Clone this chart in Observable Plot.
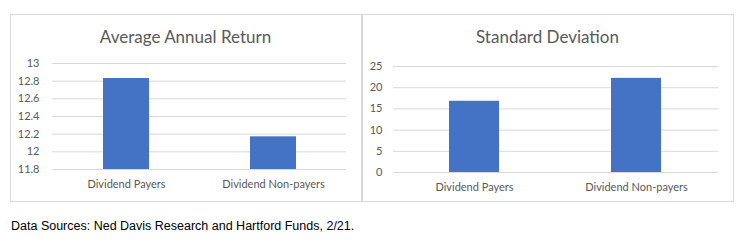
<!DOCTYPE html>
<html>
<head>
<meta charset="utf-8">
<script src="https://cdn.jsdelivr.net/npm/d3@7"></script>
<script src="https://cdn.jsdelivr.net/npm/@observablehq/plot@0.6"></script>
<style>
  html, body { margin: 0; padding: 0; background: #fff; }
  #page { position: relative; width: 743px; height: 247px; overflow: hidden; background: #fff; }
  .panel { position: absolute; border: 1px solid #d9d9d9; box-sizing: border-box; }
  .title { position: absolute; text-align: center; font-family: Lato, "Open Sans", sans-serif; font-size: 17px; color: #595959; white-space: nowrap; }
  .chart { position: absolute; }
  #caption { position: absolute; left: 11px; top: 219px; font-family: "Liberation Sans", Arial, sans-serif; font-size: 12.5px; color: #000; white-space: nowrap; }
</style>
</head>
<body>
<div id="page">
  <div class="panel" style="left:10px; top:14px; width:352px; height:188px;"></div>
  <div class="panel" style="left:362px; top:14px; width:372px; height:188px;"></div>
  <div class="title" id="t1" style="left:10px; top:26px; width:351px;"></div>
  <div class="title" id="t2" style="left:362px; top:26px; width:371px;"></div>
  <div class="chart" id="c1" style="left:10px; top:55px;"></div>
  <div class="chart" id="c2" style="left:362px; top:55px;"></div>
  <div id="caption"></div>
</div>
<script>
const categories = ["Dividend Payers", "Dividend Non-payers"];
const avgAnnualReturn = [12.83, 12.17];
const standardDeviation = [16.8, 22.2];
const returnTicks = [11.8, 12, 12.2, 12.4, 12.6, 12.8, 13];
const stdTicks = [0, 5, 10, 15, 20, 25];
const titles = ["Average Annual Return", "Standard Deviation"];
const captionText = "Data Sources: Ned Davis Research and Hartford Funds, 2/21.";

const barColor = "#4472C4";
const gridColor = "#d9d9d9";
const textColor = "#595959";
const font = "Lato, 'Open Sans', sans-serif";

function makeChart(values, ticks, opts) {
  const data = categories.map((c, i) => ({category: c, value: values[i]}));
  const yMin = ticks[0], yMax = ticks[ticks.length - 1];
  return Plot.plot({
    width: opts.width,
    height: 140,
    marginLeft: opts.marginLeft,
    marginRight: opts.marginRight,
    marginTop: opts.marginTop,
    marginBottom: opts.marginBottom,
    style: {fontFamily: font, fontSize: "11px", color: textColor, background: "transparent", overflow: "visible"},
    x: {domain: categories, paddingInner: 0.69, paddingOuter: 0.345, label: null},
    y: {domain: [yMin, yMax], label: null},
    marks: [
      Plot.gridY(ticks, {stroke: gridColor, strokeOpacity: 1, strokeWidth: 1}),
      Plot.barY(data, {x: "category", y1: () => yMin, y2: "value", fill: barColor}),
      Plot.axisY(ticks, {tickSize: 0, tickPadding: opts.yPad, label: null, fill: textColor, fontSize: 11, tickFormat: d => String(d)}),
      Plot.axisX({tickSize: 0, tickPadding: 11, label: null, fill: textColor, fontSize: 11})
    ]
  });
}

document.getElementById("t1").textContent = titles[0];
document.getElementById("t2").textContent = titles[1];
document.getElementById("caption").textContent = captionText;

document.getElementById("c1").appendChild(makeChart(avgAnnualReturn, returnTicks, {
  width: 351, marginLeft: 42, marginRight: 15, marginTop: 8, marginBottom: 26, yPad: 13
}));
document.getElementById("c2").appendChild(makeChart(standardDeviation, stdTicks, {
  width: 371, marginLeft: 31, marginRight: 15, marginTop: 11, marginBottom: 23, yPad: 11
}));
</script>
</body>
</html>
